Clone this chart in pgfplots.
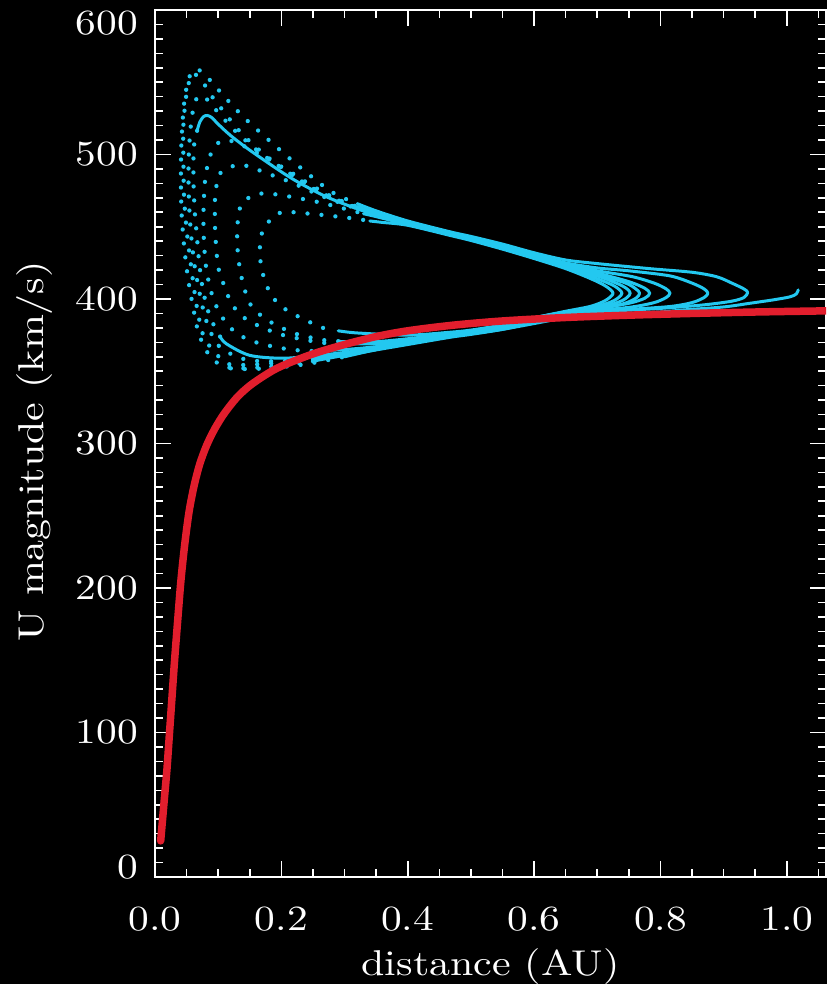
\documentclass[border=0pt]{standalone}
\usepackage{fontspec}
\setmainfont{lmroman10-regular.otf}[FakeStretch=1.17]
\usepackage{pgfplots}
\pgfplotsset{compat=1.18}
\definecolor{cyb}{RGB}{35,200,240}
\definecolor{redc}{RGB}{226,30,45}
\begin{document}
\begin{tikzpicture}
\fill[black] (-155bp,-107bp) rectangle (672bp,877bp);
\begin{axis}[
 at={(0,0)}, anchor=south west,
 scale only axis, width=671bp, height=867bp,
 xmin=0, xmax=1.062, ymin=0, ymax=600,
 axis line style={white, line width=1.6bp},
 tick align=inside, tick pos=both,
 major tick length=16bp, minor tick length=8bp,
 tick style={white, line width=1.6bp},
 xtick={0,0.2,0.4,0.6,0.8,1.0},
 xticklabels={0.0,0.2,0.4,0.6,0.8,1.0},
 minor xtick={0.05,0.1,0.15,0.25,0.3,0.35,0.45,0.5,0.55,0.65,0.7,0.75,0.85,0.9,0.95,1.05},
 ytick={0,100,200,300,400,500,600},
 yticklabels={{\raisebox{10bp}[\height][\depth]{0}},100,200,300,400,500,{\raisebox{-13bp}[\height][\depth]{600}}},
 minor y tick num=9,
 tick label style={text=white, font=\fontsize{35.5}{40}\selectfont},
 xticklabel style={anchor=base, yshift=-53bp, inner sep=0pt},
 yticklabel style={anchor=east, xshift=-17bp, inner sep=0pt},
 label style={text=white, font=\fontsize{36}{40}\selectfont},
 xlabel={distance (AU)},
 ylabel={U magnitude (km/s)},
 xlabel style={at={(axis description cs:0.5,0)}, anchor=base, yshift=-98bp},
 ylabel style={at={(axis description cs:-0.1669,0.491)}, anchor=base},
 dotsty/.style={draw=cyb, line width=4.3bp, line cap=round, dash pattern=on 0bp off 14bp, smooth, mark=none},
 solsty/.style={draw=cyb, line width=3bp, line cap=round, line join=round, smooth, mark=none},
]
% ---- loop 1
\addplot[dotsty] coordinates {(0.266,380) (0.235,386) (0.206,393) (0.193,398) (0.183,403) (0.174,413) (0.168,422) (0.166,434) (0.168,444) (0.179,453) (0.2,460) (0.245,459) (0.309,456) (0.34,454)};
\addplot[solsty] coordinates {(0.34,454) (0.36,453) (0.4,451) (0.467,444) (0.5,440.5) (0.55,434.5) (0.6,428) (0.65,421) (0.69,414) (0.713,409) (0.725,404) (0.713,399) (0.69,395) (0.65,391.5) (0.6,387) (0.55,382) (0.5,378.5) (0.467,377) (0.4,375) (0.32,376.5) (0.29,378)};
% ---- loop 2
\addplot[dotsty] coordinates {(0.29,370.8) (0.266,371.6) (0.219,376.5) (0.177,385.5) (0.162,391) (0.15,397) (0.139,411) (0.132,428) (0.130,443) (0.132,458) (0.139,467) (0.161,472.6) (0.187,472.6) (0.214,470.8) (0.256,467.3) (0.3,462.5) (0.33,459)};
\addplot[solsty] coordinates {(0.33,459) (0.35,457) (0.4,451.5) (0.467,444.5) (0.5,441) (0.55,435) (0.6,428.5) (0.65,422) (0.7,414) (0.727,409) (0.739,404) (0.727,399) (0.7,395) (0.65,391) (0.6,387) (0.55,382) (0.5,378) (0.467,376) (0.4,372.5) (0.35,370.5) (0.3,370.5) (0.29,370.8)};
% ---- loop 3
\addplot[dotsty] coordinates {(0.29,369) (0.26,370) (0.203,375) (0.166,381) (0.139,387.7) (0.121,397) (0.108,411) (0.1,422) (0.097,435) (0.095,450) (0.095,470) (0.098,480) (0.103,487) (0.129,492.8) (0.150,491.5) (0.177,487) (0.214,481) (0.26,472) (0.3,465.5) (0.32,462.5)};
\addplot[solsty] coordinates {(0.32,462.5) (0.35,458) (0.4,452) (0.467,445) (0.5,441.5) (0.55,435.5) (0.6,429) (0.65,422.5) (0.7,416) (0.74,409) (0.752,404) (0.74,399) (0.71,395) (0.65,391) (0.6,386.5) (0.55,381.5) (0.5,377.5) (0.467,375.5) (0.4,371) (0.35,369) (0.3,369) (0.29,369)};
% ---- loop 4
\addplot[dotsty] coordinates {(0.27,364.5) (0.24,364) (0.2,366) (0.16,370) (0.13,376) (0.11,385) (0.095,397) (0.086,410) (0.08,425) (0.077,445) (0.077,465) (0.08,485) (0.088,500) (0.1,508) (0.115,510) (0.14,506) (0.17,499) (0.21,489) (0.25,478) (0.3,466) (0.32,463)};
\addplot[solsty] coordinates {(0.32,463) (0.35,458.5) (0.4,452.3) (0.467,445.2) (0.5,441.8) (0.55,435.8) (0.6,429.3) (0.65,423) (0.7,417) (0.745,411) (0.761,407) (0.767,404) (0.761,400.5) (0.74,396.5) (0.7,393) (0.65,390.5) (0.6,386) (0.55,381) (0.5,377) (0.467,375) (0.4,370) (0.35,367) (0.3,365) (0.27,364.5)};
% ---- loop 5 (solid peak)
\addplot[dotsty] coordinates {(0.103,374) (0.087,387.7) (0.076,406) (0.07,425) (0.066,445) (0.063,460) (0.061,480) (0.061,500.7) (0.063,510) (0.067,517)};
\addplot[solsty] coordinates {(0.067,517) (0.071,522.5) (0.077,526.3) (0.083,527) (0.09,525.5) (0.1,521) (0.12,513) (0.15,503) (0.2,488) (0.23,480) (0.27,471) (0.31,464) (0.35,458.5) (0.4,452.5) (0.467,445.3) (0.5,442) (0.55,436) (0.6,429.5) (0.65,423.5) (0.7,418) (0.75,412) (0.775,407.5) (0.783,404) (0.775,400.5) (0.75,397) (0.7,393.5) (0.65,390.5) (0.6,385.5) (0.55,380.5) (0.5,377) (0.467,375) (0.361,367) (0.3,363) (0.256,361) (0.203,359) (0.15,361) (0.113,369) (0.103,374)};
% ---- loop 6
\addplot[dotsty] coordinates {(0.25,359) (0.2,357) (0.15,357.5) (0.12,362) (0.1,368) (0.085,380) (0.075,395) (0.068,410) (0.062,425) (0.057,445) (0.054,465) (0.053,485) (0.054,505) (0.058,525) (0.064,537) (0.072,541) (0.085,537) (0.1,529) (0.13,515) (0.17,500) (0.22,485) (0.26,474) (0.3,466.5) (0.32,463)};
\addplot[solsty] coordinates {(0.32,463) (0.35,459) (0.4,453) (0.467,445.6) (0.5,442.3) (0.55,436.5) (0.6,430) (0.65,424) (0.7,419.5) (0.755,415.5) (0.79,411) (0.809,407) (0.815,404) (0.809,401) (0.79,397.5) (0.755,394.5) (0.7,392) (0.65,389.5) (0.6,385) (0.55,380) (0.5,376.5) (0.467,374.5) (0.4,369.5) (0.35,366) (0.3,362) (0.25,359)};
% ---- loop 7
\addplot[dotsty] coordinates {(0.25,358.5) (0.2,356) (0.139,354.3) (0.113,355.4) (0.1,360.5) (0.087,367) (0.075,376.6) (0.066,395) (0.06,413) (0.055,430) (0.05,448) (0.046,470.8) (0.045,495) (0.045,521) (0.051,545) (0.06,556) (0.071,552) (0.084,545) (0.094,537.6) (0.107,530.8) (0.13,518) (0.16,505) (0.2,491) (0.25,477) (0.3,467) (0.32,464)};
\addplot[solsty] coordinates {(0.32,464) (0.35,459.5) (0.4,453.2) (0.467,445.8) (0.5,442.6) (0.55,437) (0.6,430.5) (0.65,425) (0.7,421.5) (0.75,419.5) (0.815,416) (0.85,411) (0.869,407) (0.875,404) (0.869,401) (0.85,397.5) (0.815,394.8) (0.75,392.8) (0.7,391.5) (0.65,389) (0.6,384.5) (0.55,379.5) (0.5,376) (0.467,374) (0.4,369) (0.3,362) (0.25,358.5)};
% ---- loop 8
\addplot[dotsty] coordinates {(0.25,357) (0.19,353.5) (0.14,352) (0.11,353) (0.095,357) (0.08,365) (0.068,378) (0.06,395) (0.052,415) (0.046,437) (0.042,460) (0.041,485) (0.042,510) (0.046,535) (0.053,552) (0.063,559) (0.075,557) (0.09,550) (0.11,540) (0.14,526) (0.18,510) (0.23,491) (0.28,474) (0.32,466)};
\addplot[solsty] coordinates {(0.32,466) (0.35,461) (0.4,454) (0.467,446.5) (0.5,443.3) (0.55,438) (0.6,432) (0.65,427) (0.7,424.5) (0.783,421) (0.85,418.5) (0.889,415.4) (0.913,411) (0.932,407) (0.938,404.5) (0.932,401) (0.913,398.5) (0.87,396) (0.8,393.5) (0.7,391) (0.65,388.5) (0.6,384) (0.55,379) (0.5,375.5) (0.467,373.5) (0.4,368.5) (0.3,361) (0.25,357)};
% ---- loop 9 (open end)
\addplot[dotsty] coordinates {(0.12,352) (0.15,351.5) (0.19,352.5) (0.24,355) (0.3,360)};
\addplot[solsty] coordinates {(0.3,360) (0.35,365) (0.4,369.5) (0.467,374) (0.5,376) (0.55,379) (0.6,383) (0.65,387) (0.7,389) (0.73,389.5) (0.8,391) (0.836,392.4) (0.9,394.5) (0.941,397) (0.98,399.5) (1.005,401.5) (1.015,403.5) (1.018,406.3)};
% ---- red profile
\addplot[draw=redc, line width=7.5bp, line cap=round, smooth, mark=none] coordinates {(0.009,25) (0.012,40) (0.015,55) (0.019,75) (0.023,100) (0.027,125) (0.031,150) (0.036,178) (0.041,205) (0.047,230) (0.054,253) (0.062,271) (0.071,286) (0.082,299) (0.095,310.5) (0.11,321) (0.13,332) (0.15,340) (0.175,347.5) (0.2,353.5) (0.25,362) (0.3,368.5) (0.35,374) (0.4,378) (0.47,381.8) (0.55,384.8) (0.65,387.2) (0.75,388.8) (0.85,390) (0.95,391) (1.062,391.8)};
\end{axis}
\pgfresetboundingbox
\path[use as bounding box] (-155bp,-107bp) rectangle (672bp,877bp);
\end{tikzpicture}
\end{document}
